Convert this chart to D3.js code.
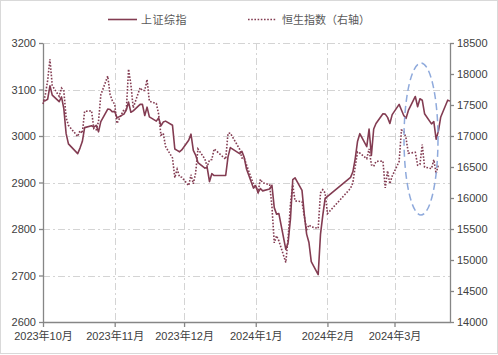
<!DOCTYPE html>
<html><head><meta charset="utf-8">
<script src="https://cdn.jsdelivr.net/npm/d3@7"></script>
<style>
html,body{margin:0;padding:0;background:#fff;}
svg text{font-family:"Liberation Sans","Noto Sans CJK SC",sans-serif;}
</style></head>
<body><svg id="chart" width="498" height="355"></svg>
<script>
// ---------- data ----------
const seriesNames = ["上证综指", "恒生指数（右轴）"];
const leftTicks = [2600, 2700, 2800, 2900, 3000, 3100, 3200];
const rightTicks = [14000, 14500, 15000, 15500, 16000, 16500, 17000, 17500, 18000, 18500];
const xTickDates = ["2023-10-09", "2023-11-09", "2023-12-09", "2024-01-09", "2024-02-09", "2024-03-09"];
const xDomain = ["2023-10-09", "2024-04-02"];

const shDates = [
"2023-10-09","2023-10-10","2023-10-11","2023-10-12","2023-10-13","2023-10-16","2023-10-17","2023-10-18","2023-10-19","2023-10-20",
"2023-10-24","2023-10-25","2023-10-26","2023-10-27","2023-10-30","2023-10-31","2023-11-01","2023-11-02","2023-11-03","2023-11-06",
"2023-11-07","2023-11-08","2023-11-09","2023-11-10","2023-11-13","2023-11-14","2023-11-15","2023-11-16","2023-11-17","2023-11-20",
"2023-11-21","2023-11-22","2023-11-23","2023-11-24","2023-11-27","2023-11-28","2023-11-29","2023-11-30","2023-12-01","2023-12-04",
"2023-12-05","2023-12-06","2023-12-07","2023-12-08","2023-12-11","2023-12-12","2023-12-13","2023-12-14","2023-12-15","2023-12-18",
"2023-12-19","2023-12-20","2023-12-21","2023-12-22","2023-12-27","2023-12-28","2023-12-29","2024-01-02","2024-01-03","2024-01-04",
"2024-01-05","2024-01-08","2024-01-09","2024-01-10","2024-01-11","2024-01-12","2024-01-15","2024-01-16","2024-01-17","2024-01-18",
"2024-01-19","2024-01-22","2024-01-23","2024-01-24","2024-01-25","2024-01-26","2024-01-29","2024-01-30","2024-01-31","2024-02-01",
"2024-02-02","2024-02-05","2024-02-06","2024-02-07","2024-02-08","2024-02-19","2024-02-20","2024-02-21","2024-02-22","2024-02-23",
"2024-02-26","2024-02-27","2024-02-28","2024-02-29","2024-03-01","2024-03-04","2024-03-05","2024-03-06","2024-03-07","2024-03-08",
"2024-03-11","2024-03-12","2024-03-13","2024-03-14","2024-03-15","2024-03-18","2024-03-19","2024-03-20","2024-03-21","2024-03-22",
"2024-03-25","2024-03-26","2024-03-27","2024-03-28","2024-03-29","2024-04-01","2024-04-02"];
const shValues = [
3075,3076,3079,3108,3088,3074,3084,3059,3005,2983,
2962,2974,2988,3018,3022,3019,3023,3009,3031,3058,
3057,3052,3053,3039,3047,3056,3073,3051,3054,3068,
3068,3044,3062,3041,3032,3039,3022,3030,3032,3023,
2972,2969,2966,2970,2991,3004,2969,2959,2943,2931,
2932,2902,2919,2915,2915,2955,2975,2962,2967,2954,
2929,2888,2893,2878,2887,2882,2886,2894,2846,2832,
2833,2756,2771,2821,2906,2910,2883,2831,2789,2771,
2730,2702,2789,2830,2866,2911,2923,2951,2988,3005,
2977,3015,2958,3015,3027,3048,3047,3040,3027,3046,
3068,3056,3044,3038,3055,3085,3063,3080,3077,3048,
3026,3031,2993,3011,3041,3077,3075];

const hsDates = [
"2023-10-09","2023-10-10","2023-10-11","2023-10-12","2023-10-13","2023-10-16","2023-10-17","2023-10-18","2023-10-19","2023-10-20",
"2023-10-24","2023-10-25","2023-10-26","2023-10-27","2023-10-30","2023-10-31","2023-11-01","2023-11-02","2023-11-03","2023-11-06",
"2023-11-07","2023-11-08","2023-11-09","2023-11-10","2023-11-13","2023-11-14","2023-11-15","2023-11-16","2023-11-17","2023-11-20",
"2023-11-21","2023-11-22","2023-11-23","2023-11-24","2023-11-27","2023-11-28","2023-11-29","2023-11-30","2023-12-01","2023-12-04",
"2023-12-05","2023-12-06","2023-12-07","2023-12-08","2023-12-11","2023-12-12","2023-12-13","2023-12-14","2023-12-15","2023-12-18",
"2023-12-19","2023-12-20","2023-12-21","2023-12-22","2023-12-27","2023-12-28","2023-12-29","2024-01-02","2024-01-03","2024-01-04",
"2024-01-05","2024-01-08","2024-01-09","2024-01-10","2024-01-11","2024-01-12","2024-01-15","2024-01-16","2024-01-17","2024-01-18",
"2024-01-19","2024-01-22","2024-01-23","2024-01-24","2024-01-25","2024-01-26","2024-01-29","2024-01-30","2024-01-31","2024-02-01",
"2024-02-02","2024-02-05","2024-02-06","2024-02-07","2024-02-08","2024-02-09","2024-02-19","2024-02-20","2024-02-21","2024-02-22",
"2024-02-23","2024-02-26","2024-02-27","2024-02-28","2024-02-29","2024-03-01","2024-03-04","2024-03-05","2024-03-06","2024-03-07",
"2024-03-08","2024-03-11","2024-03-12","2024-03-13","2024-03-14","2024-03-15","2024-03-18","2024-03-19","2024-03-20","2024-03-21",
"2024-03-22","2024-03-25","2024-03-26","2024-03-27","2024-03-28"];
const hsValues = [
17517,17664,17893,18238,17813,17640,17773,17732,17296,17172,
16992,17085,17045,17399,17406,17112,17102,17231,17664,17967,
17671,17568,17511,17203,17426,17397,18079,17833,17454,17778,
17734,17735,17911,17559,17525,17354,17014,17043,16830,16646,
16328,16463,16346,16334,16201,16374,16229,16402,16792,16629,
16505,16614,16621,16792,16625,17044,17047,16789,16646,16646,
16535,16224,16190,16097,16302,16245,16216,15866,15277,15391,
15309,14961,15354,15900,16212,15952,15942,15703,15485,15566,
15534,15510,16082,16135,16082,15747,16156,16248,16503,16743,
16726,16635,16791,16537,16511,16589,16596,16163,16438,16230,
16353,16588,17094,17082,16962,16721,16737,16529,16543,16863,
16499,16474,16618,16393,16541];

// ---------- layout ----------
const svg = d3.select("#chart");
const W = 498, H = 355;
const plot = {left: 43, right: 450, top: 43, bottom: 322};
const lineColor = "#833c52";
const gridColor = "#d4d4d4";
const axisColor = "#868686";
const textColor = "#404040";

const parse = d3.timeParse("%Y-%m-%d");
const x = d3.scaleTime().domain(xDomain.map(parse)).range([plot.left, plot.right]);
const yL = d3.scaleLinear().domain([2600, 3200]).range([plot.bottom, plot.top]);
const yR = d3.scaleLinear().domain([14000, 18500]).range([plot.bottom, plot.top]);

// outer border
svg.append("rect").attr("x", 0.5).attr("y", 0.5).attr("width", W - 1).attr("height", H - 2)
  .attr("fill", "#fff").attr("stroke", "#d9d9d9").attr("stroke-width", 1);

// gridlines
const dash = "7,3,2,3";
svg.append("g").selectAll("line").data(leftTicks.filter(d => d !== 2600)).join("line")
  .attr("x1", plot.left).attr("x2", plot.right)
  .attr("y1", d => Math.round(yL(d)) + 0.5).attr("y2", d => Math.round(yL(d)) + 0.5)
  .attr("stroke", gridColor).attr("stroke-dasharray", dash);
svg.append("g").selectAll("line").data(xTickDates.slice(1).map(parse)).join("line")
  .attr("x1", d => Math.round(x(d)) + 0.5).attr("x2", d => Math.round(x(d)) + 0.5)
  .attr("y1", plot.top).attr("y2", plot.bottom)
  .attr("stroke", gridColor).attr("stroke-dasharray", dash);

// axes
function styleAxis(g) {
  g.select(".domain").attr("stroke", axisColor).attr("stroke-width", 1.3);
  g.selectAll(".tick line").attr("stroke", axisColor).attr("stroke-width", 1.3);
  g.selectAll(".tick text").attr("fill", textColor).style("font-size", "11px");
}
svg.append("g").attr("transform", `translate(${plot.left},0)`)
  .call(d3.axisLeft(yL).tickValues(leftTicks).tickSize(4).tickSizeOuter(0).tickPadding(3).tickFormat(d3.format("d")))
  .call(styleAxis);
svg.append("g").attr("transform", `translate(${plot.right},0)`)
  .call(d3.axisRight(yR).tickValues(rightTicks).tickSize(4).tickSizeOuter(0).tickPadding(3).tickFormat(d3.format("d")))
  .call(styleAxis);
svg.append("g").attr("transform", `translate(0,${plot.bottom})`)
  .call(d3.axisBottom(x).tickValues(xTickDates.map(parse)).tickSize(5).tickSizeOuter(0).tickPadding(5)
    .tickFormat(d3.timeFormat("%Y年%-m月")))
  .call(styleAxis);

// lines
const shData = shDates.map((d, i) => ({date: parse(d), value: shValues[i]}));
const hsData = hsDates.map((d, i) => ({date: parse(d), value: hsValues[i]}));
svg.append("path").datum(hsData)
  .attr("d", d3.line().x(d => x(d.date)).y(d => yR(d.value)))
  .attr("fill", "none").attr("stroke", lineColor).attr("stroke-width", 1.6)
  .attr("stroke-dasharray", "1.6,1.6");
svg.append("path").datum(shData)
  .attr("d", d3.line().x(d => x(d.date)).y(d => yL(d.value)))
  .attr("fill", "none").attr("stroke", lineColor).attr("stroke-width", 1.6)
  .attr("stroke-linejoin", "round");

// highlight ellipse
svg.append("ellipse").attr("cx", 421).attr("cy", 139).attr("rx", 17).attr("ry", 76)
  .attr("fill", "none").attr("stroke", "#8faadc").attr("stroke-width", 1.5)
  .attr("stroke-dasharray", "7,4");

// legend
const lg = svg.append("g");
lg.append("line").attr("x1", 108).attr("x2", 137).attr("y1", 19.5).attr("y2", 19.5)
  .attr("stroke", lineColor).attr("stroke-width", 1.6);
lg.append("text").attr("x", 141).attr("y", 24).text(seriesNames[0])
  .attr("fill", "#595959").style("font-size", "11px").style("letter-spacing", "0.5px");
lg.append("line").attr("x1", 248).attr("x2", 276).attr("y1", 19.5).attr("y2", 19.5)
  .attr("stroke", lineColor).attr("stroke-width", 1.6).attr("stroke-dasharray", "1.6,1.6");
lg.append("text").attr("x", 282).attr("y", 24).text(seriesNames[1])
  .attr("fill", "#595959").style("font-size", "11px");
</script></body></html>
